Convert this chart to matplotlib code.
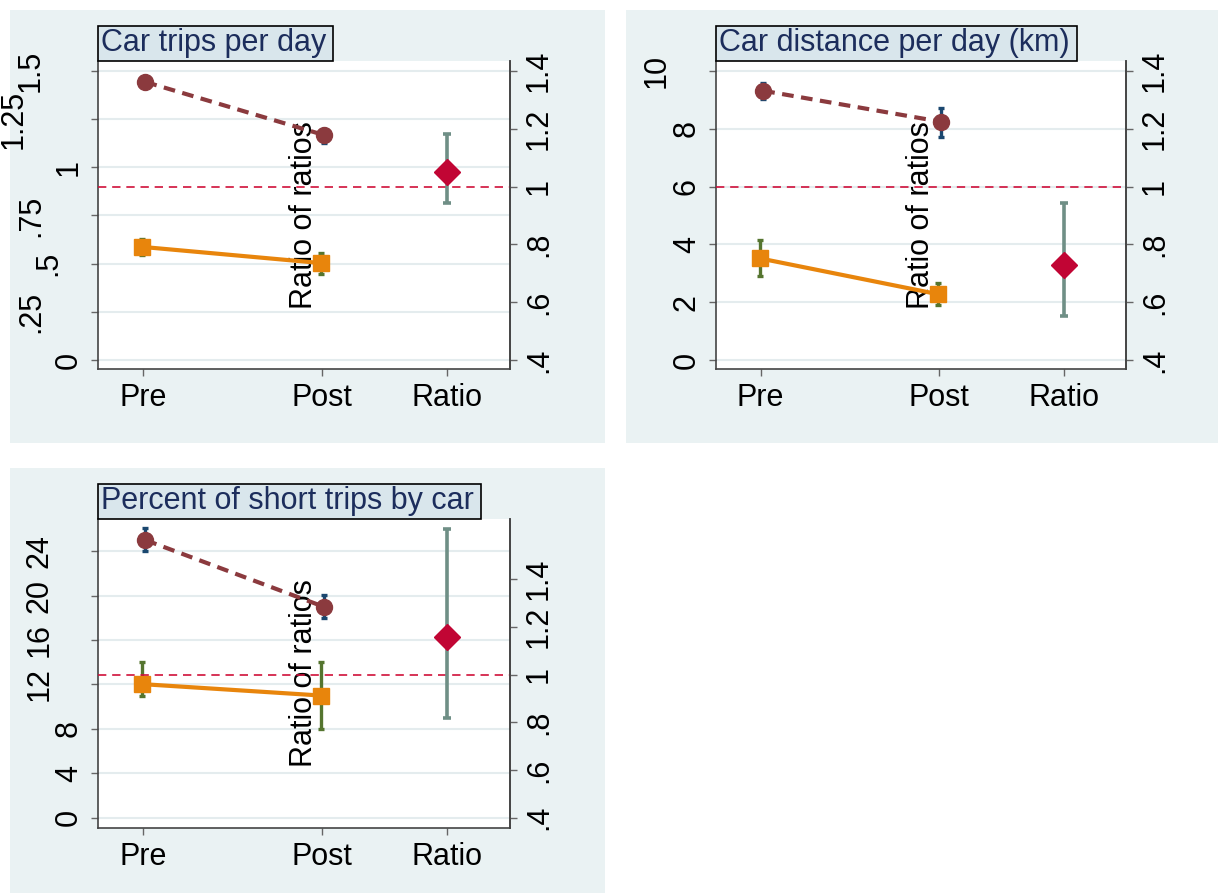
import matplotlib
matplotlib.use('Agg')
import matplotlib.pyplot as plt
from matplotlib.patches import Rectangle
from matplotlib.transforms import offset_copy
from matplotlib.font_manager import FontProperties

plt.rcParams['font.family'] = ['Liberation Sans', 'DejaVu Sans']
plt.rcParams['ytick.alignment'] = 'center'

# ---- data ----
cats = ['Pre', 'Post', 'Ratio']
titles = ['Car trips per day', 'Car distance per day (km)', 'Percent of short trips by car']

# car trips per day
trips_car = [1.443, 1.168]
trips_car_lo = [1.42, 1.128]
trips_car_hi = [1.465, 1.20]
trips_ctl = [0.587, 0.503]
trips_ctl_lo = [0.545, 0.448]
trips_ctl_hi = [0.63, 0.555]
trips_ratio = 1.05
trips_ratio_ci = [0.943, 1.182]

# car distance per day
dist_car = [9.32, 8.25]
dist_car_lo = [9.04, 7.73]
dist_car_hi = [9.6, 8.74]
dist_ctl = [3.52, 2.28]
dist_ctl_lo = [2.92, 1.90]
dist_ctl_hi = [4.15, 2.67]
dist_ratio = 0.729
dist_ratio_ci = [0.552, 0.942]

# percent of short trips by car
short_car = [25.0, 19.0]
short_car_lo = [24.03, 18.0]
short_car_hi = [26.05, 20.05]
short_ctl = [12.03, 11.0]
short_ctl_lo = [11.0, 8.0]
short_ctl_hi = [14.04, 14.04]
short_ratio = 1.159
short_ratio_ci = [0.819, 1.61]

left_ticks = [[0, .25, .5, .75, 1, 1.25, 1.5], [0, 2, 4, 6, 8, 10], [0, 4, 8, 12, 16, 20, 24]]
left_labels = [['0', '.25', '.5', '.75', '1', '1.25', '1.5'],
               ['0', '2', '4', '6', '8', '10'],
               ['0', '4', '8', '12', '16', '20', '24']]
right_ticks = [.4, .6, .8, 1, 1.2, 1.4]
right_labels = ['.4', '.6', '.8', '1', '1.2', '1.4']

# colours
bg = '#eaf2f3'
c_car = '#8b3a3e'
c_car_ci = '#1a476f'
c_ctl = '#e8850c'
c_ctl_ci = '#55752f'
c_rat = '#c10534'
c_rat_ci = '#6f8f86'

W, H, DPI = 1218, 894, 100
fs = 22
fig = plt.figure(figsize=(W / DPI, H / DPI), dpi=DPI)
renderer = fig.canvas.get_renderer()
fp = FontProperties(family=['Liberation Sans', 'DejaVu Sans'], size=fs)


def px(x0, y0, x1, y1):
    # pixel box (top-left origin) -> figure fraction rect
    return [x0 / W, 1 - y1 / H, (x1 - x0) / W, (y1 - y0) / H]


def textw(s):
    w, h, d = renderer.get_text_width_height_descent(s, fp, ismath=False)
    return w


# panel backgrounds
for (x0, y0, x1, y1) in [(10, 10, 605, 443), (626, 10, 1218, 443), (10, 468, 605, 893)]:
    r = px(x0, y0, x1, y1)
    fig.add_artist(Rectangle((r[0], r[1]), r[2], r[3], transform=fig.transFigure,
                             facecolor=bg, edgecolor='none', zorder=0))

xpos = [0, 1, 1.7]

panels = [
    dict(rect=(98, 61, 510, 369), ylim=(-0.047, 1.552), rlim=(0.369, 1.435),
         car=trips_car, car_lo=trips_car_lo, car_hi=trips_car_hi,
         ctl=trips_ctl, ctl_lo=trips_ctl_lo, ctl_hi=trips_ctl_hi,
         rat=trips_ratio, rat_ci=trips_ratio_ci),
    dict(rect=(716, 61, 1126, 369), ylim=(-0.31, 10.35), rlim=(0.369, 1.435),
         car=dist_car, car_lo=dist_car_lo, car_hi=dist_car_hi,
         ctl=dist_ctl, ctl_lo=dist_ctl_lo, ctl_hi=dist_ctl_hi,
         rat=dist_ratio, rat_ci=dist_ratio_ci),
    dict(rect=(98, 519, 510, 828), ylim=(-0.93, 26.9), rlim=(0.357, 1.652),
         car=short_car, car_lo=short_car_lo, car_hi=short_car_hi,
         ctl=short_ctl, ctl_lo=short_ctl_lo, ctl_hi=short_ctl_hi,
         rat=short_ratio, rat_ci=short_ratio_ci),
]

for i, p in enumerate(panels):
    x0, y0, x1, y1 = p['rect']
    ax = fig.add_axes(px(x0, y0, x1, y1))
    ax.set_facecolor('white')
    ax.set_xlim(-0.25, 2.05)
    ax.set_ylim(*p['ylim'])
    ax2 = ax.twinx()
    ax2.set_ylim(*p['rlim'])

    # gridlines
    ax.set_yticks(left_ticks[i])
    ax.set_yticklabels([])
    ax.yaxis.grid(True, color='#e4ecee', lw=1.5)
    ax.set_axisbelow(True)

    # treated (car) series
    xc = [xpos[0] + 0.015, xpos[1] + 0.01]
    car, lo, hi = p['car'], p['car_lo'], p['car_hi']
    ax.errorbar(xc, car, yerr=[[c - l for c, l in zip(car, lo)], [h - c for c, h in zip(car, hi)]],
                fmt='none', ecolor=c_car_ci, elinewidth=2.4, capsize=2.5, capthick=2.4, zorder=3)
    ax.plot(xc, car, color=c_car, lw=3.0, ls=(0, (2.8, 1.8)), zorder=4)
    ax.plot(xc, car, 'o', color=c_car, ms=11.5, zorder=5)

    # control series
    xo = [xpos[0] - 0.005, xpos[1] - 0.005]
    ctl, lo, hi = p['ctl'], p['ctl_lo'], p['ctl_hi']
    ax.errorbar(xo, ctl, yerr=[[c - l for c, l in zip(ctl, lo)], [h - c for c, h in zip(ctl, hi)]],
                fmt='none', ecolor=c_ctl_ci, elinewidth=2.4, capsize=2.5, capthick=2.4, zorder=3)
    ax.plot(xo, ctl, color=c_ctl, lw=3.0, zorder=4)
    ax.plot(xo, ctl, 's', color=c_ctl, ms=11.5, zorder=5)

    ax.text(0.5, 0.5, 'Ratio of ratios', transform=ax.transAxes, rotation=90,
            ha='center', va='center', fontsize=fs, zorder=2)

    # ratio of ratios on right axis
    ax2.axhline(1, color='#d0103a', lw=1.2, ls=(0, (5, 3.5)), zorder=1)
    rat = p['rat']
    ax2.errorbar([xpos[2]], [rat], yerr=[[rat - p['rat_ci'][0]], [p['rat_ci'][1] - rat]],
                 fmt='none', ecolor=c_rat_ci, elinewidth=2.6, capsize=3, capthick=2.6, zorder=3)
    ax2.plot([xpos[2]], [rat], 'D', color=c_rat, ms=13, zorder=4)

    # x axis
    ax.set_xticks(xpos)
    ax.set_xticklabels(cats, fontsize=fs)

    # right axis ticks
    ax2.set_yticks(right_ticks)
    ax2.set_yticklabels(right_labels, fontsize=fs, rotation=90)

    for a in (ax, ax2):
        a.spines['top'].set_visible(False)
        for s in a.spines.values():
            s.set_color('#444444')
            s.set_linewidth(1.2)
        a.tick_params(length=5, width=1, color='#666666', pad=5)
    ax2.spines['left'].set_visible(False)
    ax2.spines['bottom'].set_visible(False)

    # left tick labels, rotated and staggered like the original
    w1 = textw('0')
    tr0 = ax.get_yaxis_transform()
    for t, lab in zip(left_ticks[i], left_labels[i]):
        w = textw(lab)
        gap = 14 if len(lab) == 1 else 27 + (w - w1)
        tr = offset_copy(tr0, fig=fig, x=-gap, units='dots')
        ax.text(0, t, lab, transform=tr, rotation=90, ha='right', va='center', fontsize=fs)

    # title box
    tw = textw(titles[i])
    br = px(x0, y0 - 35, x0 + tw + 10, y0)
    fig.add_artist(Rectangle((br[0], br[1]), br[2], br[3], transform=fig.transFigure,
                             facecolor='#d9e6ec', edgecolor='black', lw=1.2, zorder=3))
    fig.text((x0 + 3) / W, 1 - (y0 - 17.5) / H, titles[i], ha='left', va='center',
             fontsize=fs, color='#1c2d5c', zorder=4)

fig.savefig('out.png', dpi=DPI)
